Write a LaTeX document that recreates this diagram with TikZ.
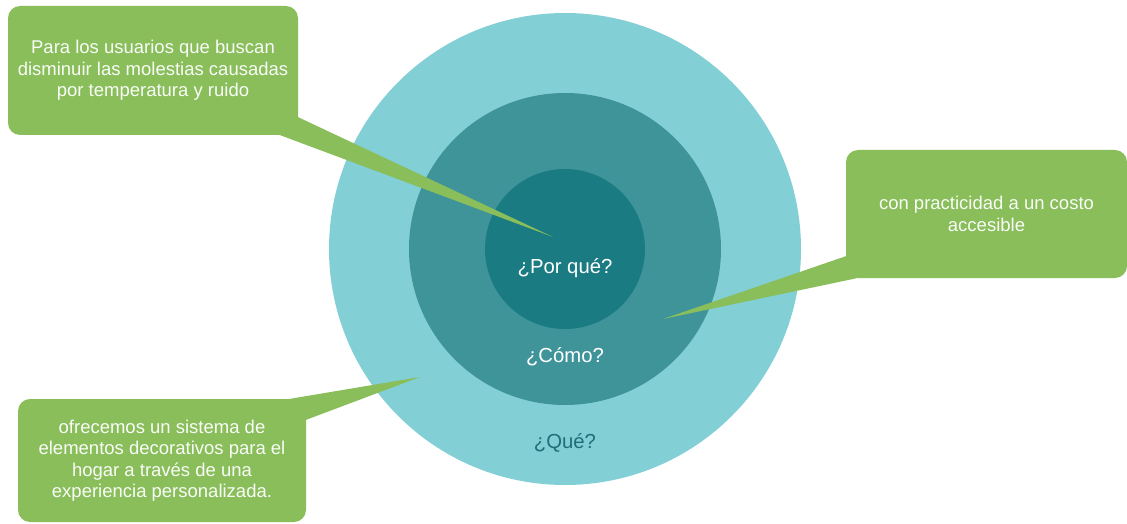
\documentclass[tikz,border=0pt]{standalone}
\usepackage{fontspec}
\setmainfont{Liberation Sans}
\usetikzlibrary{calc}

\definecolor{leafgreen}{HTML}{89BE5B}
\definecolor{tealpale}{HTML}{83CFD6}
\definecolor{tealmid}{HTML}{3F9499}
\definecolor{tealdeep}{HTML}{1A7B82}
\definecolor{tealtext}{HTML}{1F6F77}

\begin{document}
\begin{tikzpicture}[x=1pt, y=-1pt,
  ring/.style={shape=circle, inner sep=0},
  note/.style={shape=rectangle, rounded corners=12pt, fill=leafgreen, text=white!95!leafgreen, align=center, inner sep=0, font=\fontsize{18.5}{21.5}\selectfont},
  ask/.style={font=\fontsize{20.3}{24}\selectfont}]
  \useasboundingbox (0,0) rectangle (1127,524);
  \path (565,249) node [ring, fill=tealpale, minimum size=472pt] (que) {};
  \path (565,249) node [ring, fill=tealmid, minimum size=312pt] (como) {};
  \path (565,249) node [ring, fill=tealdeep, minimum size=160pt] (porque) {};
  \path (565,268) node [ask, text=white] (porquetxt) {¿Por qué?};
  \path (565,357) node [ask, text=white] (comotxt) {¿Cómo?};
  \path (565,443) node [ask, text=tealtext] (quetxt) {¿Qué?};
  \path (153,70.5) node [note, minimum width=290pt, minimum height=129pt] (para) {Para los usuarios que buscan\\disminuir las molestias causadas\\por temperatura y ruido};
  \path (986.5,214) node [note, minimum width=281pt, minimum height=128pt] (con) {con practicidad a un costo\\accesible};
  \path (162,460.5) node [note, minimum width=288pt, minimum height=123pt] (ofrecemos) {ofrecemos un sistema de\\elementos decorativos para el\\hogar a través de una\\experiencia personalizada.};
  \coordinate (tippara) at (553,237);
  \coordinate (tipcon) at (663,319);
  \coordinate (tipofrecemos) at (420,377);
  \fill [leafgreen] ([yshift=18pt]para.south east) -- (tippara) -- ([xshift=-18pt]para.south east) -- cycle;
  \fill [leafgreen] ([yshift=22pt]con.south west) -- (tipcon) -- ([xshift=11pt]con.south west) -- cycle;
  \fill [leafgreen] ([xshift=-16pt]ofrecemos.north east) -- (tipofrecemos) -- ([yshift=-21pt]ofrecemos.north east) -- cycle;
\end{tikzpicture}
\end{document}
